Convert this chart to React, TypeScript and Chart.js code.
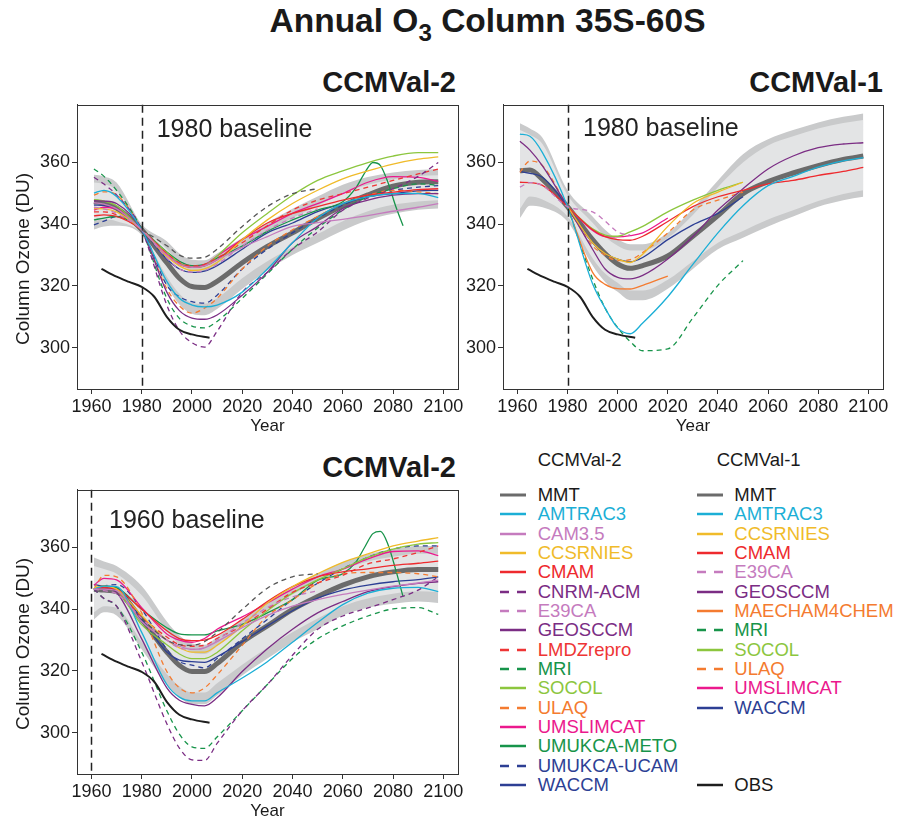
import React, { useEffect, useRef } from "react";
import { Chart, registerables } from "chart.js";
Chart.register(...registerables);

const FONT = '"Liberation Sans", Arial, Helvetica, sans-serif';

// ---------- shared axes ----------
const YEARS = [1961, 1965, 1970, 1980, 1990, 1995, 2000, 2005, 2010, 2020, 2030, 2040, 2050, 2060, 2070, 2080, 2090, 2098];
const METO_YEARS = [1961, 1965, 1970, 1980, 1990, 1995, 2000, 2005, 2010, 2020, 2030, 2040, 2050, 2060, 2065, 2069, 2072, 2075, 2078, 2081, 2084];
const OBS_YEARS = [1964, 1970, 1975, 1980, 1985, 1990, 1995, 2000, 2007];
const OBS = [325.5, 323.0, 321.3, 319.7, 316.5, 310.0, 305.8, 304.3, 303.2];
const X_TICKS = [1960, 1980, 2000, 2020, 2040, 2060, 2080, 2100];
const Y_TICKS = [300, 320, 340, 360];
const X_MIN = 1954.26, X_MAX = 2105.86, Y_MIN = 286.6, Y_MAX = 378.7;

// ---------- Panel 1: CCMVal-2, 1980 baseline ----------
const P1_MMT = [347.3, 346.8, 345.2, 338.2, 327.5, 322.5, 319.8, 319.5, 321.5, 327.5, 332.8, 337.2, 341.8, 346.0, 349.5, 352.3, 353.6, 353.8];
const P1_OUT_HI = [356.0, 355.5, 353.5, 340.0, 334.5, 330.5, 328.5, 328.3, 330.5, 335.5, 340.5, 345.0, 349.0, 352.8, 355.3, 356.8, 357.6, 357.9];
const P1_OUT_LO = [338.3, 339.3, 339.5, 336.5, 320.0, 314.0, 311.0, 310.5, 312.5, 319.0, 325.0, 330.0, 334.0, 338.0, 341.3, 343.4, 344.7, 345.1];
const P1_IN_HI = [353.5, 353.0, 351.0, 339.5, 332.0, 327.5, 325.0, 324.8, 327.0, 332.5, 337.5, 342.0, 346.0, 350.0, 352.8, 354.6, 355.6, 355.9];
const P1_IN_LO = [341.0, 341.5, 341.0, 337.0, 323.0, 317.5, 314.5, 314.2, 316.0, 322.5, 328.0, 332.5, 336.8, 341.0, 344.2, 346.3, 347.4, 347.8];
const P1_AMTRAC3 = [350.1, 351.0, 349.0, 338.2, 321.5, 316.0, 313.8, 313.2, 313.8, 318.0, 325.5, 334.0, 342.0, 346.7, 348.9, 349.9, 350.0, 348.6];
const P1_CAM35 = [347.0, 346.5, 345.0, 338.2, 330.0, 327.0, 326.0, 326.5, 328.5, 332.5, 336.0, 339.3, 340.5, 341.6, 342.8, 344.2, 345.5, 346.7];
const P1_CCSRNIES = [345.1, 345.0, 344.0, 338.2, 329.5, 326.5, 325.0, 325.5, 327.6, 335.0, 341.4, 346.7, 351.0, 354.7, 357.3, 359.5, 361.1, 361.8];
const P1_CMAM = [342.7, 343.0, 342.5, 338.2, 330.0, 327.0, 326.0, 326.5, 328.5, 335.0, 340.4, 343.5, 345.7, 347.8, 349.4, 350.4, 351.2, 351.5];
const P1_CNRM = [355.2, 353.0, 349.5, 338.2, 313.8, 305.5, 301.6, 300.2, 305.3, 318.0, 324.4, 331.9, 337.5, 344.5, 348.5, 351.5, 355.5, 360.0];
const P1_E39CA = [345.5, 345.0, 343.5, 338.2, 329.0, 325.5, 324.5, 325.0, 327.0, 333.0, 338.0, 342.0, 345.0, null, null, null, null, null];
const P1_GEOSCCM = [347.6, 347.5, 346.7, 338.2, 318.0, 312.0, 309.6, 309.2, 310.6, 317.0, 324.4, 334.0, 339.3, 345.1, 347.8, 349.4, 349.9, 349.9];
const P1_LMDZ = [344.0, 344.0, 343.0, 338.2, 330.5, 327.5, 326.5, 327.0, 329.0, 334.0, 339.5, 344.6, 347.8, 349.9, 352.0, 354.2, 356.3, 357.9];
const P1_MRI = [357.9, 355.5, 351.0, 338.2, 316.0, 309.5, 307.0, 306.4, 308.5, 316.0, 323.9, 331.9, 338.8, 344.6, 348.9, 351.5, 353.1, 352.6];
const P1_SOCOL = [348.0, 347.5, 346.0, 338.2, 330.8, 327.5, 326.0, 326.5, 329.7, 337.2, 343.5, 349.4, 354.2, 357.3, 360.0, 362.1, 363.2, 363.2];
const P1_ULAQ = [349.4, 350.5, 349.5, 338.2, 319.1, 313.5, 311.2, 312.8, 316.0, 325.5, 332.9, 338.2, 342.5, 346.7, 349.4, 351.0, 350.5, 349.9];
const P1_UMSLIMCAT = [344.6, 345.5, 345.0, 338.2, 330.5, 327.5, 326.0, 326.8, 329.7, 335.0, 339.3, 343.5, 346.7, 349.9, 353.6, 355.4, 355.2, 353.9];
const P1_METO = [341.4, 342.0, 342.5, 338.2, 331.0, 328.0, 326.6, 327.0, 329.0, 332.9, 337.7, 341.4, 344.6, 347.3, 351.5, 357.0, 360.0, 359.0, 353.5, 346.0, 339.5];
const P1_UCAM = [339.8, 341.0, 342.5, 338.2, 320.2, 316.5, 314.9, 314.4, 317.0, 325.5, 331.9, 337.2, 342.0, 346.2, 349.4, 351.0, 352.0, 352.5];
const P1_WACCM = [346.2, 346.0, 345.0, 338.2, 328.7, 325.5, 324.4, 324.8, 326.6, 331.9, 337.2, 340.4, 344.1, 346.7, 348.9, 349.9, 350.8, 351.0];
const P1_OTHER = [null, null, null, 338.2, 333.0, 330.0, 329.0, 329.3, 331.9, 339.3, 345.7, 349.9, 351.5, null, null, null, null, null];

// ---------- Panel 2: CCMVal-1, 1980 baseline ----------
const P2_MMT = [357.3, 357.6, 354.5, 345.7, 335.0, 330.5, 327.1, 325.7, 326.6, 329.7, 336.1, 342.8, 349.9, 353.8, 356.6, 359.0, 361.0, 362.1];
const P2_OUT_HI = [372.7, 371.0, 368.0, 351.0, 342.5, 338.2, 335.1, 333.5, 333.5, 337.2, 345.1, 354.2, 362.7, 367.5, 370.5, 373.0, 374.8, 375.9];
const P2_OUT_LO = [342.0, 346.0, 345.5, 340.9, 326.6, 321.3, 318.1, 315.4, 315.4, 319.1, 325.5, 331.9, 335.6, 339.3, 342.5, 345.7, 347.8, 348.9];
const P2_IN_HI = [370.5, 369.0, 366.0, 349.5, 340.5, 336.0, 333.0, 331.5, 331.5, 335.5, 343.0, 352.0, 360.0, 365.5, 368.5, 371.0, 372.8, 373.8];
const P2_IN_LO = [345.0, 349.0, 348.0, 342.5, 329.0, 324.0, 321.0, 318.5, 318.5, 322.0, 328.0, 334.0, 337.8, 341.5, 344.5, 347.5, 349.8, 351.0];
const P2_AMTRAC3 = [369.2, 368.5, 363.2, 345.7, 320.7, 312.8, 306.4, 304.5, 308.0, 316.5, 327.0, 337.2, 346.0, 352.5, 355.5, 358.5, 360.5, 361.6];
const P2_CCSRNIES = [null, null, null, 345.7, 334.0, 330.5, 328.7, 327.6, 330.3, 339.3, 346.7, 350.4, 353.6, null, null, null, null, null];
const P2_CMAM = [353.6, 353.5, 352.6, 345.7, 338.2, 336.0, 335.0, 334.8, 336.1, 340.9, 345.7, 348.9, 351.0, 353.1, 354.2, 355.8, 357.1, 358.4];
const P2_E39CA = [352.0, 353.5, 352.5, 345.7, 344.0, 341.0, 337.5, 336.5, null, null, null, null, null, null, null, null, null, null];
const P2_GEOSCCM = [366.9, 364.0, 358.9, 345.7, 331.9, 325.5, 322.8, 322.3, 323.4, 328.7, 336.0, 344.6, 351.5, 357.9, 362.1, 364.8, 366.0, 366.4];
const P2_MAECHAM = [null, null, null, 345.7, 324.4, 320.5, 319.1, 319.0, 320.2, 323.2, null, null, null, null, null, null, null, null];
const P2_MRI = [null, null, null, 345.7, 322.3, 312.8, 306.5, 302.0, 299.0, 299.6, 309.6, 320.2, 328.2, null, null, null, null, null];
const P2_SOCOL = [null, null, null, 345.7, 338.5, 336.5, 336.1, 337.5, 339.3, 344.0, 347.8, 351.0, 353.6, null, null, null, null, null];
const P2_ULAQ = [356.8, 360.5, 359.0, 345.7, 333.0, 330.0, 328.2, 328.5, 330.8, 337.2, 344.6, 347.8, 350.4, null, null, null, null, null];
const P2_UMSLIMCAT = [null, null, null, 345.7, 338.0, 336.0, 335.9, 336.3, 337.2, 342.0, null, null, null, null, null, null, null, null];
const P2_WACCM = [357.1, 356.5, 355.2, 345.7, 334.0, 330.5, 328.7, 327.8, 329.2, 335.0, 339.8, 343.5, 348.9, null, null, null, null, null];

// ---------- Panel 3: CCMVal-2, 1960 baseline ----------
const P3_MMT = [346.5, 346.2, 345.7, 336.7, 326.1, 321.8, 319.8, 319.8, 322.4, 329.3, 334.6, 339.9, 344.1, 347.8, 350.5, 352.1, 352.9, 352.9];
const P3_OUT_HI = [356.8, 355.5, 354.0, 347.5, 336.0, 331.5, 329.0, 328.5, 331.0, 336.7, 342.6, 347.3, 351.5, 355.2, 357.8, 359.5, 360.5, 360.5];
const P3_OUT_LO = [336.7, 339.0, 338.0, 327.0, 315.5, 311.5, 309.2, 309.2, 312.0, 318.5, 324.0, 329.3, 333.5, 338.0, 340.5, 341.8, 342.5, 342.0];
const P3_IN_HI = [354.0, 353.0, 351.5, 344.5, 333.0, 328.5, 326.0, 325.5, 328.0, 334.0, 339.8, 344.8, 349.0, 352.8, 355.5, 357.0, 358.0, 358.0];
const P3_IN_LO = [339.0, 341.0, 340.5, 329.5, 319.0, 315.0, 313.0, 313.0, 316.0, 322.0, 327.5, 332.5, 337.0, 341.0, 343.5, 345.0, 345.8, 345.5];
const P3_AMTRAC3 = [346.5, 347.5, 347.3, 332.5, 315.6, 311.5, 310.3, 310.3, 312.9, 317.7, 323.0, 329.3, 335.7, 341.5, 345.2, 346.8, 347.1, 345.7];
const P3_CAM35 = [346.5, 346.5, 346.0, 336.0, 330.0, 328.0, 327.0, 327.5, 329.5, 334.0, 338.0, 341.0, 343.1, 344.8, 346.2, 347.5, 348.5, 349.4];
const P3_CCSRNIES = [347.0, 347.5, 346.5, 338.0, 330.0, 327.5, 326.1, 326.1, 328.3, 334.6, 342.0, 347.3, 351.5, 355.2, 357.9, 360.5, 362.1, 363.2];
const P3_CMAM = [346.5, 347.0, 346.5, 340.0, 333.0, 330.5, 329.8, 330.0, 331.5, 336.7, 342.5, 347.3, 350.5, 352.1, 353.1, 354.2, 354.9, 355.6];
const P3_CNRM = [346.5, 343.5, 341.0, 323.0, 302.9, 295.0, 291.2, 291.0, 296.5, 307.1, 315.6, 325.1, 333.5, 337.8, 340.4, 343.1, 346.2, 350.5];
const P3_E39CA = [346.5, 346.0, 345.0, 337.0, 330.0, 327.5, 327.0, 327.5, 330.0, 335.5, 340.5, 344.0, 346.0, null, null, null, null, null];
const P3_GEOSCCM = [346.5, 347.0, 345.5, 330.4, 314.5, 310.5, 309.2, 308.7, 311.3, 319.8, 327.2, 333.5, 338.8, 342.5, 345.7, 347.3, 348.4, 348.9];
const P3_LMDZ = [346.5, 347.0, 346.0, 337.5, 331.0, 328.5, 328.0, 328.3, 330.5, 334.6, 340.0, 345.5, 348.5, 351.0, 354.7, 356.3, 358.4, 360.5];
const P3_MRI = [346.5, 343.5, 341.0, 326.1, 307.1, 299.5, 295.4, 294.9, 298.6, 307.1, 315.6, 324.0, 330.4, 334.6, 337.8, 340.1, 340.5, 338.3];
const P3_SOCOL = [346.5, 347.0, 346.0, 335.0, 328.5, 325.5, 324.0, 324.0, 326.0, 333.0, 339.5, 345.2, 349.5, 353.1, 356.8, 359.5, 361.1, 361.6];
const P3_ULAQ = [346.5, 351.0, 350.5, 338.8, 319.8, 314.5, 312.9, 314.5, 318.7, 328.3, 337.8, 343.0, 348.4, 351.5, 351.9, 351.9, 351.5, 350.5];
const P3_UMSLIMCAT = [347.8, 350.0, 349.5, 340.5, 332.0, 330.0, 329.3, 330.5, 333.5, 337.5, 342.0, 346.5, 350.5, 353.0, 356.3, 358.7, 358.9, 357.4];
const P3_METO = [346.5, 347.5, 347.0, 340.0, 334.0, 332.0, 331.7, 331.7, 333.0, 335.1, 338.8, 343.1, 349.4, 351.5, 355.0, 360.5, 364.5, 365.2, 361.0, 353.0, 344.1];
const P3_UCAM = [346.5, 347.5, 348.0, 340.0, 327.0, 323.0, 321.9, 321.0, 324.0, 330.4, 336.7, 343.1, 348.4, 353.1, 356.8, 359.5, 360.5, 360.5];
const P3_WACCM = [348.0, 347.5, 347.0, 336.7, 326.1, 323.5, 323.0, 322.8, 324.6, 329.5, 334.6, 339.5, 343.6, 346.2, 347.8, 348.9, 349.6, 350.5];
const P3_OTHER = [null, null, null, 337.0, 330.0, 328.5, 328.3, 329.5, 332.5, 339.9, 346.8, 350.5, 351.5, null, null, null, null, null];

// ---------- legend ----------
const LEGEND_CCMVAL2 = ["MMT", "AMTRAC3", "CAM3.5", "CCSRNIES", "CMAM", "CNRM-ACM", "E39CA", "GEOSCCM", "LMDZrepro", "MRI", "SOCOL", "ULAQ", "UMSLIMCAT", "UMUKCA-METO", "UMUKCA-UCAM", "WACCM"];
const LEGEND_CCMVAL1 = ["MMT", "AMTRAC3", "CCSRNIES", "CMAM", "E39CA", "GEOSCCM", "MAECHAM4CHEM", "MRI", "SOCOL", "ULAQ", "UMSLIMCAT", "WACCM"];

const STYLE: Record<string, { c: string; d: boolean }> = {
  MMT: { c: "#6b6b6b", d: false },
  AMTRAC3: { c: "#1cafd6", d: false },
  "CAM3.5": { c: "#c57bbe", d: false },
  CCSRNIES: { c: "#f0bb2a", d: false },
  CMAM: { c: "#ee2a2e", d: false },
  "CNRM-ACM": { c: "#7b2d84", d: true },
  E39CA: { c: "#c57bbe", d: true },
  GEOSCCM: { c: "#7b2d84", d: false },
  LMDZrepro: { c: "#ee3535", d: true },
  MRI: { c: "#17944a", d: true },
  SOCOL: { c: "#8cc63e", d: false },
  ULAQ: { c: "#f47b30", d: true },
  UMSLIMCAT: { c: "#eb198d", d: false },
  "UMUKCA-METO": { c: "#17944a", d: false },
  "UMUKCA-UCAM": { c: "#2d3f94", d: true },
  WACCM: { c: "#2d3f94", d: false },
  MAECHAM4CHEM: { c: "#f47b30", d: false },
  OBS: { c: "#1e1e1e", d: false },
  other: { c: "#555555", d: true },
};

type Vals = (number | null)[];
const pts = (years: number[], vals: Vals) => years.map((x, i) => ({ x, y: vals[i] }));

function modelDs(name: string, vals: Vals, years: number[] = YEARS) {
  const s = STYLE[name];
  return {
    label: name,
    data: pts(years, vals),
    borderColor: s.c,
    backgroundColor: s.c,
    borderWidth: 1.3,
    borderDash: s.d ? [5, 4] : [],
    pointRadius: 0,
    fill: false,
    cubicInterpolationMode: "monotone",
    order: 10,
  };
}

function bandDs(outHi: Vals, outLo: Vals, inHi: Vals, inLo: Vals) {
  const base = { pointRadius: 0, borderWidth: 0, borderColor: "rgba(0,0,0,0)", cubicInterpolationMode: "monotone" };
  return [
    { ...base, label: "band-out-hi", data: pts(YEARS, outHi), fill: "+1", backgroundColor: "#c9cacb", order: 100 },
    { ...base, label: "band-out-lo", data: pts(YEARS, outLo), fill: false, order: 100 },
    { ...base, label: "band-in-hi", data: pts(YEARS, inHi), fill: "+1", backgroundColor: "#e3e4e5", order: 99 },
    { ...base, label: "band-in-lo", data: pts(YEARS, inLo), fill: false, order: 99 },
  ];
}

function mmtDs(vals: Vals) {
  return { label: "MMT", data: pts(YEARS, vals), borderColor: "#6b6b6b", borderWidth: 5, pointRadius: 0, fill: false, cubicInterpolationMode: "monotone", order: 20 };
}
function obsDs() {
  return { label: "OBS", data: pts(OBS_YEARS, OBS), borderColor: "#1e1e1e", borderWidth: 2, pointRadius: 0, fill: false, cubicInterpolationMode: "monotone", order: 5 };
}

const decorPlugin = {
  id: "decor",
  afterDatasetsDraw(chart: any, _args: any, opts: any) {
    const { ctx, chartArea: a, scales } = chart;
    const x = scales.x.getPixelForValue(opts.baseYear);
    ctx.save();
    ctx.strokeStyle = "#222";
    ctx.lineWidth = 1.5;
    ctx.setLineDash([8, 5]);
    ctx.beginPath();
    ctx.moveTo(Math.round(x) + 0.5, a.top);
    ctx.lineTo(Math.round(x) + 0.5, a.bottom);
    ctx.stroke();
    ctx.setLineDash([]);
    ctx.fillStyle = "#222";
    ctx.font = `25px ${FONT}`;
    ctx.textBaseline = "alphabetic";
    ctx.textAlign = "left";
    ctx.fillText(opts.text, a.left + opts.tx, a.top + opts.ty);
    ctx.restore();
  },
  afterDraw(chart: any, _args: any, opts: any) {
    const { ctx, chartArea: a } = chart;
    ctx.save();
    ctx.strokeStyle = "#333";
    ctx.lineWidth = 1;
    ctx.strokeRect(Math.round(a.left) + 0.5, Math.round(a.top) + 0.5, Math.round(a.right - a.left), Math.round(a.bottom - a.top));
    if (opts.yTitle) {
      ctx.translate(24, (a.top + a.bottom) / 2 + 12);
      ctx.rotate(-Math.PI / 2);
      ctx.fillStyle = "#1a1a1a";
      ctx.font = `19px ${FONT}`;
      ctx.textAlign = "center";
      ctx.textBaseline = "middle";
      ctx.fillText(opts.yTitle, 0, 0);
    }
    ctx.restore();
  },
};

function makeConfig(datasets: any[], p: { baseYear: number; text: string; tx: number; ty: number; yTitle: string; padTop: number; padRight: number; xH: number; titlePadBottom: number }) {
  return {
    type: "line",
    data: { datasets },
    plugins: [decorPlugin],
    options: {
      responsive: false,
      animation: false,
      devicePixelRatio: 1,
      layout: { padding: { top: p.padTop, right: p.padRight, left: 0, bottom: 0 } },
      plugins: {
        legend: { display: false },
        tooltip: { enabled: false },
        decor: { baseYear: p.baseYear, text: p.text, tx: p.tx, ty: p.ty, yTitle: p.yTitle },
      },
      scales: {
        x: {
          type: "linear",
          min: X_MIN,
          max: X_MAX,
          afterBuildTicks: (s: any) => { s.ticks = X_TICKS.map((v) => ({ value: v })); },
          afterFit: (s: any) => { s.height = p.xH; },
          ticks: { font: { family: FONT, size: 18 }, color: "#1a1a1a", padding: 2, autoSkip: false, maxRotation: 0, callback: (v: any) => String(v) },
          grid: { drawOnChartArea: false, drawTicks: true, tickLength: 5, color: "#333" },
          border: { display: true, color: "#333" },
          title: { display: true, text: "Year", font: { family: FONT, size: 17 }, color: "#1a1a1a", padding: { top: 0, bottom: p.titlePadBottom } },
        },
        y: {
          type: "linear",
          min: Y_MIN,
          max: Y_MAX,
          afterBuildTicks: (s: any) => { s.ticks = Y_TICKS.map((v) => ({ value: v })); },
          afterFit: (s: any) => { s.width = 77; },
          ticks: { font: { family: FONT, size: 18 }, color: "#1a1a1a", padding: 2, callback: (v: any) => String(v) },
          grid: { drawOnChartArea: false, drawTicks: true, tickLength: 5, color: "#333" },
          border: { display: true, color: "#333" },
          title: { display: false },
        },
      },
    },
  };
}

function Txt(props: { x: number; base: number; size: number; bold?: boolean; color?: string; anchor?: "start" | "end" | "middle"; children: any }) {
  const { x, base, size, bold, color, anchor = "start" } = props;
  const tr = anchor === "end" ? "translateX(-100%)" : anchor === "middle" ? "translateX(-50%)" : "none";
  return (
    <div style={{ position: "absolute", left: x, top: base - 0.9465 * size, fontSize: size, lineHeight: `${size * 1.2}px`, fontWeight: bold ? 700 : 400, color: color || "#1a1a1a", whiteSpace: "nowrap", transform: tr, fontFamily: FONT }}>
      {props.children}
    </div>
  );
}

function LegendRow({ name, x, y, lineX }: { name: string; x: number; y: number; lineX: number }) {
  const s = STYLE[name];
  const textColor = name === "MMT" || name === "OBS" ? "#1a1a1a" : s.c;
  return (
    <>
      <svg style={{ position: "absolute", left: lineX, top: y - 4 }} width={27} height={8}>
        <line x1={0} y1={4} x2={26} y2={4} stroke={s.c} strokeWidth={name === "MMT" ? 3 : 2.5} strokeDasharray={s.d ? "9,8" : undefined} />
      </svg>
      <div style={{ position: "absolute", left: x, top: y - 10, height: 20, lineHeight: "20px", fontSize: 18.5, color: textColor, whiteSpace: "nowrap", fontFamily: FONT }}>{name}</div>
    </>
  );
}

export default function App() {
  const r1 = useRef<HTMLCanvasElement>(null);
  const r2 = useRef<HTMLCanvasElement>(null);
  const r3 = useRef<HTMLCanvasElement>(null);

  useEffect(() => {
    const ds1 = [
      ...bandDs(P1_OUT_HI, P1_OUT_LO, P1_IN_HI, P1_IN_LO),
      mmtDs(P1_MMT),
      modelDs("other", P1_OTHER),
      modelDs("CAM3.5", P1_CAM35),
      modelDs("E39CA", P1_E39CA),
      modelDs("AMTRAC3", P1_AMTRAC3),
      modelDs("CCSRNIES", P1_CCSRNIES),
      modelDs("CMAM", P1_CMAM),
      modelDs("CNRM-ACM", P1_CNRM),
      modelDs("GEOSCCM", P1_GEOSCCM),
      modelDs("LMDZrepro", P1_LMDZ),
      modelDs("MRI", P1_MRI),
      modelDs("SOCOL", P1_SOCOL),
      modelDs("ULAQ", P1_ULAQ),
      modelDs("UMSLIMCAT", P1_UMSLIMCAT),
      modelDs("UMUKCA-METO", P1_METO, METO_YEARS),
      modelDs("UMUKCA-UCAM", P1_UCAM),
      modelDs("WACCM", P1_WACCM),
      obsDs(),
    ];
    const ds2 = [
      ...bandDs(P2_OUT_HI, P2_OUT_LO, P2_IN_HI, P2_IN_LO),
      mmtDs(P2_MMT),
      modelDs("E39CA", P2_E39CA),
      modelDs("AMTRAC3", P2_AMTRAC3),
      modelDs("CCSRNIES", P2_CCSRNIES),
      modelDs("CMAM", P2_CMAM),
      modelDs("GEOSCCM", P2_GEOSCCM),
      modelDs("MAECHAM4CHEM", P2_MAECHAM),
      modelDs("MRI", P2_MRI),
      modelDs("SOCOL", P2_SOCOL),
      modelDs("ULAQ", P2_ULAQ),
      modelDs("UMSLIMCAT", P2_UMSLIMCAT),
      modelDs("WACCM", P2_WACCM),
      obsDs(),
    ];
    const ds3 = [
      ...bandDs(P3_OUT_HI, P3_OUT_LO, P3_IN_HI, P3_IN_LO),
      mmtDs(P3_MMT),
      modelDs("other", P3_OTHER),
      modelDs("CAM3.5", P3_CAM35),
      modelDs("E39CA", P3_E39CA),
      modelDs("AMTRAC3", P3_AMTRAC3),
      modelDs("CCSRNIES", P3_CCSRNIES),
      modelDs("CMAM", P3_CMAM),
      modelDs("CNRM-ACM", P3_CNRM),
      modelDs("GEOSCCM", P3_GEOSCCM),
      modelDs("LMDZrepro", P3_LMDZ),
      modelDs("MRI", P3_MRI),
      modelDs("SOCOL", P3_SOCOL),
      modelDs("ULAQ", P3_ULAQ),
      modelDs("UMSLIMCAT", P3_UMSLIMCAT),
      modelDs("UMUKCA-METO", P3_METO, METO_YEARS),
      modelDs("UMUKCA-UCAM", P3_UCAM),
      modelDs("WACCM", P3_WACCM),
      obsDs(),
    ];
    const c1 = new Chart(r1.current as any, makeConfig(ds1, { baseYear: 1980, text: "1980 baseline", tx: 79.7, ty: 31.7, yTitle: "Column Ozone (DU)", padTop: 7, padRight: 12, xH: 51, titlePadBottom: 3.8 }) as any);
    const c2 = new Chart(r2.current as any, makeConfig(ds2, { baseYear: 1980, text: "1980 baseline", tx: 80, ty: 31, yTitle: "", padTop: 7, padRight: 13, xH: 51, titlePadBottom: 3.8 }) as any);
    const c3 = new Chart(r3.current as any, makeConfig(ds3, { baseYear: 1960, text: "1960 baseline", tx: 32, ty: 37.7, yTitle: "Column Ozone (DU)", padTop: 8, padRight: 12, xH: 48, titlePadBottom: 0 }) as any);
    return () => { c1.destroy(); c2.destroy(); c3.destroy(); };
  }, []);

  const rowY = (i: number) => 495 + i * 19.33;

  return (
    <div style={{ position: "absolute", left: 0, top: 0, width: 900, height: 822, background: "#fff", overflow: "hidden", fontFamily: FONT }}>
      <Txt x={487.5} base={33} size={33.5} bold anchor="middle">
        Annual O<span style={{ fontSize: "0.72em", position: "relative", top: "0.35em" }}>3</span> Column 35S-60S
      </Txt>
      <Txt x={456} base={92} size={29} bold anchor="end">CCMVal-2</Txt>
      <Txt x={883} base={92} size={29} bold anchor="end">CCMVal-1</Txt>
      <Txt x={456} base={477} size={29} bold anchor="end">CCMVal-2</Txt>

      <canvas ref={r1} width={470} height={348} style={{ position: "absolute", left: 0, top: 92, width: 470, height: 348 }} />
      <canvas ref={r2} width={470} height={348} style={{ position: "absolute", left: 426, top: 92, width: 470, height: 348 }} />
      <canvas ref={r3} width={470} height={345} style={{ position: "absolute", left: 0, top: 477, width: 470, height: 345 }} />

      <Txt x={537.7} base={466.7} size={18.5}>CCMVal-2</Txt>
      <Txt x={716.7} base={466.7} size={18.5}>CCMVal-1</Txt>
      {LEGEND_CCMVAL2.map((n, i) => (
        <LegendRow key={"a" + n} name={n} x={537.7} y={rowY(i)} lineX={500} />
      ))}
      {LEGEND_CCMVAL1.map((n, i) => (
        <LegendRow key={"b" + n} name={n} x={734.3} y={rowY(i)} lineX={696.7} />
      ))}
      <LegendRow name="OBS" x={734.3} y={rowY(15)} lineX={696.7} />
    </div>
  );
}
